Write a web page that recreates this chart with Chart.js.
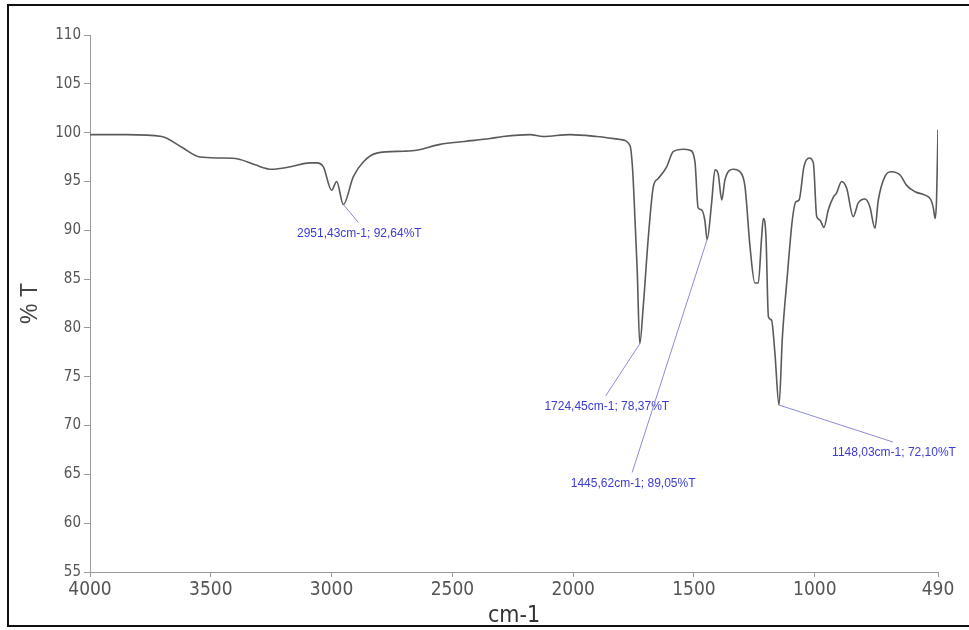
<!DOCTYPE html>
<html>
<head>
<meta charset="utf-8">
<title>FTIR spectrum</title>
<script src="https://cdn.jsdelivr.net/npm/chart.js@4.4.1/dist/chart.umd.min.js"></script>
<style>
  body { margin: 0; background: #fff; }
  canvas { display: block; }
</style>
</head>
<body>
<canvas id="spectrum" width="969" height="630"></canvas>
<script>
// trace: wavenumber (cm-1) and transmittance (%T)
const wavenumbers = [
  4000, 3850, 3703, 3620, 3545, 3460, 3387, 3317, 3248, 3170,
  3090, 3062, 3034, 3000, 2979, 2910, 2869, 2813, 2700, 2648,
  2551, 2450, 2344, 2290, 2179, 2125, 2013, 1903, 1806, 1765,
  1754, 1744, 1735, 1710, 1689, 1668, 1648, 1613, 1586, 1544,
  1517, 1496, 1483, 1469, 1455, 1427, 1413, 1400, 1385, 1372,
  1337, 1310, 1289, 1268, 1248, 1234, 1220, 1213, 1202, 1192,
  1179, 1165, 1134, 1114, 1093, 1079, 1065, 1045, 1023, 1006,
  992, 979, 962, 944, 923, 910, 889, 868, 841, 820,
  792, 772, 751, 737, 710, 682, 647, 620, 585, 544,
  519, 509, 502, 496, 490
];
const transmittance = [
  99.8, 99.8, 99.6, 98.5, 97.5, 97.4, 97.3, 96.7, 96.25, 96.5,
  96.9, 96.9, 96.5, 94.1, 95.0, 95.5, 97.0, 97.9, 98.1, 98.2,
  98.8, 99.1, 99.4, 99.6, 99.8, 99.6, 99.8, 99.6, 99.3, 98.7,
  96.2, 91.0, 85.9, 82.2, 89.3, 94.5, 95.3, 96.5, 98.05, 98.3,
  98.2, 97.0, 92.3, 92.1, 91.0, 92.8, 96.2, 95.8, 93.1, 95.15,
  96.25, 96.0, 94.5, 88.3, 84.6, 84.6, 89.3, 91.2, 89.3, 81.15,
  80.8, 77.4, 79.1, 85.25, 91.05, 92.9, 93.1, 96.5, 97.4, 96.9,
  91.4, 91.05, 90.3, 92.1, 93.4, 93.8, 95.0, 94.3, 91.4, 92.8,
  93.2, 92.4, 90.2, 93.1, 95.5, 96.0, 95.66, 94.6, 93.95, 93.6,
  93.1, 92.25, 91.2, 93.1, 100.3
];

// picked peaks
const peakWavenumbers = [2951.43, 1724.45, 1445.62, 1148.03];
const peakTransmittance = [92.64, 78.37, 89.05, 72.10];

const xTicks = [4000, 3500, 3000, 2500, 2000, 1500, 1000, 490];
const yTicks = [55, 60, 65, 70, 75, 80, 85, 90, 95, 100, 105, 110];

// merge the peaks into the trace, high wavenumber first
let points = [];
for (let i = 0; i < wavenumbers.length; i++) {
  points.push({ x: wavenumbers[i], y: transmittance[i] });
}
for (let i = 0; i < peakWavenumbers.length; i++) {
  points.push({ x: peakWavenumbers[i], y: peakTransmittance[i] });
}
points.sort(function (a, b) { return b.x - a.x; });

function fmt(v) {
  return v.toFixed(2).replace('.', ',');
}

const peakLabels = {
  id: 'peakLabels',
  afterDatasetsDraw(chart, args, opts) {
    const ctx = chart.ctx;
    const xs = chart.scales.x;
    const ys = chart.scales.y;
    ctx.save();
    for (let i = 0; i < peakWavenumbers.length; i++) {
      const px = xs.getPixelForValue(peakWavenumbers[i]);
      const py = ys.getPixelForValue(peakTransmittance[i]);
      const tx = px + opts.offsets[i][0];
      const ty = py + opts.offsets[i][1];
      ctx.strokeStyle = opts.lineColor;
      ctx.lineWidth = 1;
      ctx.beginPath();
      ctx.moveTo(px, py);
      ctx.lineTo(tx - 1, ty - 11);
      ctx.stroke();
      ctx.fillStyle = opts.color;
      ctx.font = opts.font;
      ctx.textAlign = 'center';
      ctx.textBaseline = 'middle';
      ctx.fillText(fmt(peakWavenumbers[i]) + 'cm-1; ' + fmt(peakTransmittance[i]) + '%T', tx, ty);
    }
    ctx.restore();
  }
};

// black frame on top, left and bottom
const frame = {
  id: 'frame',
  afterDraw(chart) {
    const ctx = chart.ctx;
    ctx.save();
    ctx.strokeStyle = '#111';
    ctx.lineWidth = 2;
    ctx.beginPath();
    ctx.moveTo(969, 5);
    ctx.lineTo(8, 5);
    ctx.lineTo(8, 626);
    ctx.lineTo(969, 626);
    ctx.stroke();
    ctx.restore();
  }
};

const narrow = "'Liberation Sans Narrow', 'DejaVu Sans Condensed', sans-serif";

function plain(v) {
  return String(v);
}

new Chart(document.getElementById('spectrum'), {
  type: 'line',
  data: {
    datasets: [{
      data: points,
      borderColor: '#5a5a5a',
      borderWidth: 1.6,
      pointRadius: 0,
      cubicInterpolationMode: 'monotone',
      fill: false
    }]
  },
  options: {
    responsive: false,
    animation: false,
    devicePixelRatio: 1,
    layout: { padding: { top: 35, right: 31, bottom: 0, left: 0 } },
    plugins: {
      legend: { display: false },
      tooltip: { enabled: false },
      peakLabels: {
        offsets: [[16, 29], [-33, 63], [-74, 244], [115, 48]],
        color: '#3b3bd6',
        lineColor: '#8c8cd8',
        font: "12px 'Liberation Sans', Arial, sans-serif"
      }
    },
    scales: {
      x: {
        type: 'linear',
        reverse: true,
        min: 490,
        max: 4000,
        afterFit: function (scale) { scale.height = 58; },
        afterBuildTicks: function (scale) {
          scale.ticks = xTicks.map(function (v) { return { value: v }; });
        },
        grid: { drawOnChartArea: false, drawTicks: true, tickLength: 5, color: '#9a9a9a' },
        border: { display: true, color: '#9a9a9a', width: 1 },
        ticks: {
          autoSkip: false,
          maxRotation: 0,
          padding: 2,
          color: '#555',
          callback: plain,
          font: { family: narrow, size: 19 }
        },
        title: {
          display: true,
          text: 'cm-1',
          color: '#333',
          padding: { top: 0, bottom: 0 },
          font: { family: narrow, size: 23 }
        }
      },
      y: {
        min: 55,
        max: 110,
        afterFit: function (scale) { scale.width = 90; },
        afterBuildTicks: function (scale) {
          scale.ticks = yTicks.map(function (v) { return { value: v }; });
        },
        grid: { drawOnChartArea: false, drawTicks: true, tickLength: 6, color: '#9a9a9a' },
        border: { display: true, color: '#9a9a9a', width: 1 },
        ticks: {
          padding: 3,
          color: '#555',
          callback: plain,
          font: { family: narrow, size: 15 }
        },
        title: {
          display: true,
          text: '% T',
          color: '#444',
          padding: { top: 17, bottom: 0 },
          font: { family: "'Liberation Sans', Arial, sans-serif", size: 23 }
        }
      }
    }
  },
  plugins: [peakLabels, frame]
});
</script>
</body>
</html>
